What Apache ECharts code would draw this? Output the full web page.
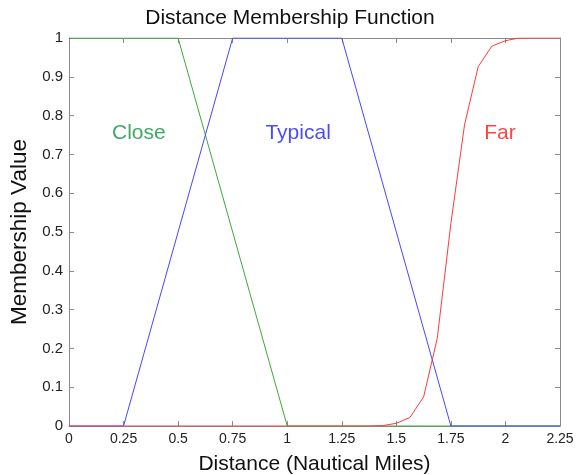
<!DOCTYPE html>
<html>
<head>
<meta charset="utf-8">
<script src="https://cdn.jsdelivr.net/npm/echarts@6/dist/echarts.min.js"></script>
<style>
html,body{margin:0;padding:0;background:#fff;}
#chart{width:580px;height:475px;}
</style>
</head>
<body>
<div id="chart"></div>
<script>
// Data
var closeX = [0, 0.5, 1, 2.25];
var closeY = [1, 1, 0, 0];
var typicalX = [0, 0.25, 0.75, 1.25, 1.75, 2.25];
var typicalY = [0, 0, 1, 1, 0, 0];
var farX = [0, 1.375, 1.4375, 1.5, 1.5625, 1.625, 1.6875, 1.75, 1.8125, 1.875, 1.9375, 2.0, 2.0625, 2.25];
var farY = [0, 0, 0.001, 0.007, 0.022, 0.075, 0.226, 0.522, 0.776, 0.926, 0.979, 0.993, 1.0, 1.0];
var labelNames = ['Close', 'Typical', 'Far'];
var labelX = [0.32, 1.05, 1.975];
var labelY = [0.755, 0.755, 0.755];
var xTicks = [0, 0.25, 0.5, 0.75, 1, 1.25, 1.5, 1.75, 2, 2.25];
var yTicks = [0, 0.1, 0.2, 0.3, 0.4, 0.5, 0.6, 0.7, 0.8, 0.9, 1];

function pairs(xs, ys) { return xs.map(function (x, i) { return [x, ys[i]]; }); }

var font = 'Liberation Sans, Arial, sans-serif';
var axisColor = '#8a8a8a';
var labelColors = ['#12923c', '#1c1cff', '#ff1414'];

var chart = echarts.init(document.getElementById('chart'));
var baseX = {
  type: 'value', min: 0, max: 2.25, interval: 0.25,
  axisLine: { show: true, onZero: false, lineStyle: { color: axisColor, width: 1 } },
  axisTick: { show: true, inside: true, length: 5, lineStyle: { color: axisColor } },
  splitLine: { show: false }
};
var baseY = {
  type: 'value', min: 0, max: 1, interval: 0.1,
  axisLine: { show: true, onZero: false, lineStyle: { color: axisColor, width: 1 } },
  axisTick: { show: true, inside: true, length: 5, lineStyle: { color: axisColor } },
  splitLine: { show: false }
};

chart.setOption({
  backgroundColor: '#ffffff',
  animation: false,
  title: {
    text: 'Distance Membership Function',
    left: 'center', top: 3,
    textStyle: { fontFamily: font, fontSize: 21, fontWeight: 'normal', color: '#111' }
  },
  grid: { left: 69, right: 20, top: 38, bottom: 49, containLabel: false, outerBoundsMode: 'none' },
  xAxis: [
    Object.assign({}, baseX, {
      position: 'bottom',
      name: 'Distance (Nautical Miles)', nameLocation: 'middle', nameGap: 28,
      nameTextStyle: { fontFamily: font, fontSize: 21, color: '#111' },
      axisLabel: {
        fontFamily: font, fontSize: 14, color: '#222', margin: 6,
        formatter: function (v) { return String(parseFloat(v.toFixed(2))); }
      }
    }),
    Object.assign({}, baseX, { position: 'top', axisLabel: { show: false } })
  ],
  yAxis: [
    Object.assign({}, baseY, {
      position: 'left',
      name: 'Membership Value', nameLocation: 'middle', nameGap: 34,
      nameTextStyle: { fontFamily: font, fontSize: 22.5, color: '#111' },
      axisLabel: {
        fontFamily: font, fontSize: 15, color: '#222', margin: 6,
        formatter: function (v) { return String(parseFloat(v.toFixed(1))); }
      }
    }),
    Object.assign({}, baseY, { position: 'right', axisLabel: { show: false } })
  ],
  series: [
    { name: 'Close', type: 'line', data: pairs(closeX, closeY), showSymbol: false,
      lineStyle: { color: '#3aaa3a', width: 1 }, itemStyle: { color: '#3aaa3a' } },
    { name: 'Typical', type: 'line', data: pairs(typicalX, typicalY), showSymbol: false,
      lineStyle: { color: '#4646ff', width: 1 }, itemStyle: { color: '#4646ff' } },
    { name: 'Far', type: 'line', data: pairs(farX, farY), showSymbol: false,
      lineStyle: { color: '#ff3a3a', width: 1 }, itemStyle: { color: '#ff3a3a' } },
    { name: 'labels', type: 'scatter', symbolSize: 0, silent: true,
      data: labelNames.map(function (n, i) {
        return {
          value: [labelX[i], labelY[i]],
          label: { show: true, position: 'inside', formatter: n,
            fontFamily: font, fontSize: 21, color: labelColors[i] }
        };
      })
    }
  ]
});
</script>
</body>
</html>
